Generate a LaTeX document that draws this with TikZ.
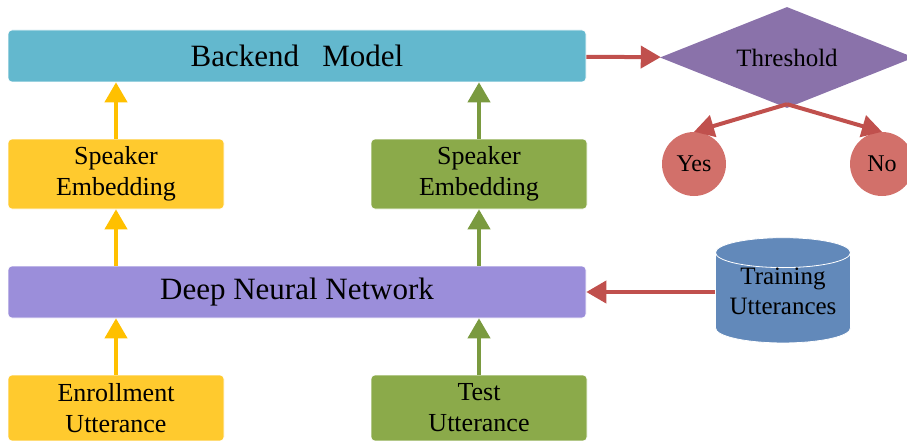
\documentclass[tikz,border=0pt]{standalone}
\usepackage{fontspec}
\setmainfont{Liberation Serif}
\usetikzlibrary{shapes.geometric,arrows.meta}

\definecolor{bkblue}{RGB}{99,184,206}
\definecolor{spkyellow}{RGB}{255,202,46}
\definecolor{arryellow}{RGB}{255,192,0}
\definecolor{spkgreen}{RGB}{139,170,74}
\definecolor{arrgreen}{RGB}{122,154,63}
\definecolor{dnnpurple}{RGB}{155,142,218}
\definecolor{thpurple}{RGB}{138,114,170}
\definecolor{decred}{RGB}{192,80,77}
\definecolor{decpink}{RGB}{210,112,106}
\definecolor{dbblue}{RGB}{98,137,186}

\tikzset{
  block/.style={rectangle,rounded corners=4pt,draw=white,line width=0.6pt,align=center,inner sep=0pt},
  wide/.style={block,minimum width=578pt,minimum height=52pt,font=\fontsize{31}{36}\selectfont},
  small/.style={block,minimum width=216pt,minimum height=70pt,font=\fontsize{26}{31}\selectfont},
  flow/.style={line width=4pt,-{Triangle[length=20pt,width=22pt]}},
}

\begin{document}
\begin{tikzpicture}[x=1pt,y=-1pt]
\useasboundingbox (0,0) rectangle (907,441);

\node[wide,fill=bkblue] (backend) at (297,56) {Backend~~~Model};
\node[small,fill=spkyellow] (spkL) at (116,174) {Speaker\\Embedding};
\node[small,fill=spkgreen] (spkR) at (479,174) {Speaker\\Embedding};
\node[wide,fill=dnnpurple] (dnn) at (297,292) {Deep Neural Network};
\node[small,fill=spkyellow,minimum height=66pt] (enroll) at (116,408) {Enrollment\\Utterance};
\node[small,fill=spkgreen,minimum height=66pt] (test) at (479,408) {Test\\Utterance};

\node[diamond,aspect=2.5,fill=thpurple,minimum width=254pt,minimum height=101pt,inner sep=0pt,
  font=\fontsize{25}{30}\selectfont] (thresh) at (787,57.5) {Threshold};
\node[circle,fill=decpink,minimum size=64pt,inner sep=0pt,
  font=\fontsize{24}{28}\selectfont] (yes) at (694,164) {Yes};
\node[circle,fill=decpink,minimum size=64pt,inner sep=0pt,
  font=\fontsize{24}{28}\selectfont] (no) at (882,164) {No};
\node[cylinder,shape border rotate=90,aspect=0.28,fill=dbblue,draw=white,line width=0.8pt,
  minimum width=135pt,minimum height=103pt,inner sep=0pt,
  font=\fontsize{25}{30}\selectfont] (train) at (783,298)
  {\raisebox{5pt}[\height][\depth]{\begin{tabular}{@{}c@{}}Training\\Utterances\end{tabular}}};

\draw[flow,arryellow] (enroll) -- (enroll|-dnn.south);
\draw[flow,arryellow] (spkL|-dnn.north) -- (spkL);
\draw[flow,arryellow] (spkL) -- (spkL|-backend.south);
\draw[flow,arrgreen] (test) -- (test|-dnn.south);
\draw[flow,arrgreen] (spkR|-dnn.north) -- (spkR);
\draw[flow,arrgreen] (spkR) -- (spkR|-backend.south);

\draw[flow,decred] (backend) -- (thresh);
\draw[flow,decred] ([yshift=4pt]thresh.south) -- (yes.north);
\draw[flow,decred] ([yshift=4pt]thresh.south) -- (no.north);
\draw[flow,decred] (train.west|-dnn) -- (dnn);
\end{tikzpicture}
\end{document}
